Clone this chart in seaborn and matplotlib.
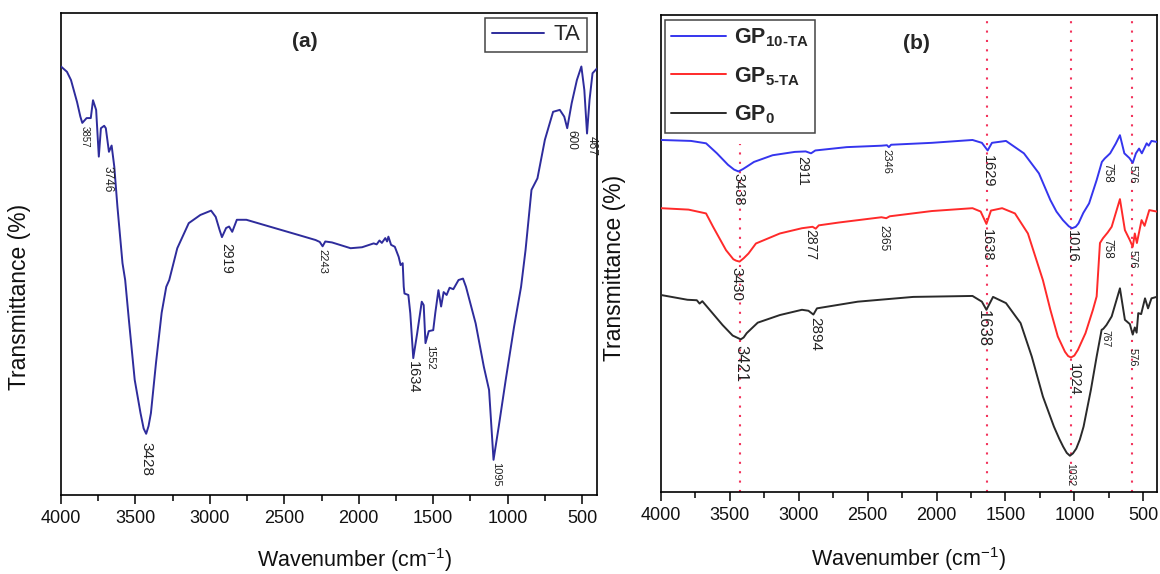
import numpy as np
import pandas as pd
import matplotlib
matplotlib.use("Agg")
import matplotlib.pyplot as plt
import seaborn as sns
from matplotlib.ticker import MultipleLocator

# ---------------- FTIR spectra ----------------
# (a) tannic acid
ta_wn = [4000, 3960, 3933, 3892, 3870, 3857, 3828, 3800, 3785, 3764,
         3746, 3732, 3710, 3699, 3678, 3660, 3642, 3621, 3587, 3569,
         3544, 3505, 3466, 3445, 3428, 3412, 3396, 3362, 3324, 3293,
         3273, 3219, 3142, 3064, 2992, 2961, 2935, 2919, 2891, 2871,
         2850, 2819, 2755, 2600, 2400, 2290, 2262, 2243, 2225, 2180,
         2055, 1978, 1900, 1880, 1861, 1845, 1822, 1810, 1801, 1783,
         1758, 1732, 1719, 1705, 1698, 1693, 1667, 1654, 1634, 1608,
         1577, 1564, 1552, 1530, 1500, 1486, 1465, 1447, 1430, 1410,
         1390, 1365, 1330, 1300, 1280, 1215, 1160, 1125, 1095, 1060,
         1013, 957, 910, 880, 840, 800, 750, 695, 650, 620,
         600, 570, 535, 505, 485, 467, 450, 430, 400]
ta_t = [88.9, 87.8, 86.1, 81.5, 78.5, 77.2, 78.2, 78.2, 81.9, 79.9,
        70.2, 76.1, 76.6, 76.1, 71.2, 72.5, 68.1, 59.8, 48.1, 44.6,
        36.3, 23.9, 17.0, 13.8, 12.7, 14.3, 17.0, 27.4, 37.8, 43.2,
        44.6, 51.2, 56.4, 58.1, 59.0, 57.7, 55.0, 53.5, 55.4, 55.7,
        54.6, 57.1, 57.1, 55.7, 53.9, 52.9, 52.5, 51.6, 52.6, 52.4,
        51.2, 51.4, 52.2, 52.0, 52.8, 52.3, 53.3, 52.6, 53.6, 51.9,
        51.5, 49.4, 47.7, 48.1, 43.2, 41.8, 41.5, 37.7, 28.4, 33.5,
        40.1, 39.4, 31.5, 34.0, 34.2, 37.8, 42.5, 39.1, 42.1, 41.5,
        43.0, 42.7, 44.6, 44.9, 43.2, 35.6, 26.6, 21.8, 7.3, 14.2,
        23.9, 34.9, 43.2, 50.8, 63.3, 65.7, 73.7, 79.5, 79.9, 78.5,
        76.1, 81.3, 86.1, 88.9, 84.0, 75.0, 82.0, 87.5, 88.5]

# (b) GP10-TA
gp10_wn = [4000, 3782, 3673, 3594, 3514, 3470, 3438, 3405, 3378, 3325,
           3190, 3029, 2950, 2911, 2880, 2652, 2400, 2360, 2346, 2330,
           2035, 1739, 1671, 1629, 1598, 1496, 1366, 1257, 1174, 1130,
           1083, 1040, 1016, 990, 970, 935, 893, 838, 800, 780,
           758, 740, 700, 669, 637, 600, 576, 553, 530, 510,
           475, 460, 440, 403]
gp10_t = [73.8, 73.6, 73.1, 71.0, 68.6, 67.6, 67.2, 67.7, 68.2, 69.2,
          70.6, 71.3, 71.4, 71.0, 71.6, 72.3, 72.6, 72.7, 72.3, 72.8,
          73.2, 73.8, 73.2, 71.6, 73.2, 73.6, 71.0, 66.8, 61.2, 58.8,
          57.0, 55.7, 55.3, 55.6, 56.3, 58.5, 60.5, 65.4, 69.2, 69.9,
          70.5, 71.0, 73.0, 74.8, 71.0, 70.0, 69.0, 71.0, 72.0, 71.0,
          73.1, 72.6, 73.6, 73.4]

# (b) GP5-TA
gp5_wn = [4000, 3800, 3673, 3622, 3528, 3475, 3455, 3430, 3400, 3365,
          3311, 3137, 2977, 2900, 2877, 2855, 2708, 2400, 2365, 2340,
          2035, 1739, 1680, 1638, 1605, 1524, 1431, 1337, 1228, 1174,
          1120, 1068, 1045, 1024, 1000, 974, 919, 865, 838, 814,
          792, 758, 729, 669, 633, 597, 576, 561, 546, 512,
          490, 456, 403]
gp5_t = [59.5, 59.2, 58.4, 55.6, 50.7, 48.8, 48.5, 48.3, 49.0, 50.0,
         52.1, 54.2, 55.3, 55.6, 55.2, 55.9, 56.5, 57.6, 57.4, 57.8,
         58.9, 59.5, 58.8, 56.2, 59.0, 59.5, 58.4, 54.2, 44.4, 38.2,
         32.6, 29.4, 28.5, 28.2, 28.6, 29.8, 33.3, 38.2, 41.0, 52.2,
         53.2, 54.4, 55.6, 61.4, 54.9, 52.8, 51.4, 54.2, 52.2, 57.0,
         55.8, 59.1, 58.8]

# (b) GP0
gp0_wn = [4000, 3808, 3740, 3720, 3700, 3647, 3553, 3480, 3421, 3400,
          3378, 3298, 3137, 2977, 2930, 2894, 2868, 2572, 2169, 1739,
          1671, 1638, 1590, 1496, 1390, 1309, 1228, 1148, 1110, 1081,
          1055, 1032, 1010, 986, 960, 933, 880, 838, 802, 790,
          767, 729, 669, 633, 597, 576, 561, 548, 536, 515,
          487, 465, 440, 403]
gp0_t = [41.3, 40.3, 40.2, 39.5, 40.0, 38.2, 35.0, 32.8, 32.0, 32.4,
         33.3, 35.5, 37.1, 38.2, 38.0, 37.2, 38.5, 39.9, 40.9, 41.1,
         39.9, 38.2, 40.9, 39.6, 35.4, 28.4, 20.0, 13.7, 11.2, 9.5,
         8.2, 7.6, 8.1, 9.1, 11.0, 13.7, 21.4, 28.4, 34.0, 34.2,
         35.0, 36.8, 42.7, 36.1, 35.2, 33.0, 34.5, 33.4, 37.5, 37.3,
         40.6, 38.5, 40.6, 40.9]

# Band labels: (text, wavenumber, dx pt, dy pt, font size)
ta_bands = [("3857", 3857, 2, -2, 7), ("3746", 3746, 6, -7, 8.5),
            ("3428", 3428, 0, -6, 11), ("2919", 2919, 3, -4, 10),
            ("2243", 2243, 0, -2, 8), ("1634", 1634, 0, -2, 10.5),
            ("1552", 1552, 3.5, -1, 8), ("1095", 1095, 2, -1.5, 8),
            ("600", 600, 3, -1.5, 8.5), ("467", 467, 3.5, -2, 8.5)]
gp10_bands = [("3438", 3438, 0, -1, 10.5), ("2911", 2911, -6.5, -2, 10),
              ("2346", 2346, -2, -1, 8), ("1629", 1629, 0, -3, 10.5),
              ("1016", 1016, 0, -1.5, 10.5), ("758", 758, 0, -5, 8.5),
              ("576", 576, 0, -1.5, 8)]
gp5_bands = [("3430", 3430, -2, -4, 11), ("2877", 2877, -4, 0, 10),
             ("2365", 2365, -2, -5, 8.5), ("1638", 1638, 0, -4, 10.5),
             ("1024", 1024, 2, -4, 10.5), ("758", 758, 0, -5, 8.5),
             ("576", 576, 0, -2, 8)]
gp0_bands = [("3421", 3421, 0, -4, 12), ("2894", 2894, 1, -1.5, 11),
             ("1638", 1638, -2, 0, 12), ("1032", 1032, 0, -5, 7.5),
             ("767", 767, -1, -3.5, 7.5), ("576", 576, 0, -10, 8)]

# Reference lines for the shared bands in (b)
guide_wn = [3430, 1632, 1024, 585]
guide_top = [73, 100, 100, 100]

# ---------------- style ----------------
sns.set_theme(style="white")
plt.rcParams["font.family"] = ["Liberation Sans", "DejaVu Sans"]
plt.rcParams["mathtext.fontset"] = "custom"
plt.rcParams["mathtext.rm"] = "Liberation Sans"
plt.rcParams["mathtext.it"] = "Liberation Sans:italic"
plt.rcParams["mathtext.bf"] = "Liberation Sans:bold"

fig = plt.figure(figsize=(11.6, 5.74), dpi=100)
fig.patch.set_facecolor("white")
ax_a = fig.add_axes([61 / 1160, 1 - 495 / 574, 536 / 1160, 482 / 574])
ax_b = fig.add_axes([661 / 1160, 1 - 492 / 574, 496 / 1160, 477 / 574])


def spectrum(ax, wn, t, color, label):
    df = pd.DataFrame({"wn": wn, "T": t})
    sns.lineplot(data=df, x="wn", y="T", sort=False, estimator=None,
                 color=color, lw=1.4, ax=ax, label=label, zorder=3,
                 solid_joinstyle="round")


def band_labels(ax, wn, t, bands):
    wn_r = np.asarray(wn)[::-1]
    t_r = np.asarray(t)[::-1]
    for text, pos, dx, dy, size in bands:
        y = np.interp(pos, wn_r, t_r)
        ax.annotate(text, xy=(pos, y), xytext=(dx, dy),
                    textcoords="offset points", rotation=270,
                    ha="center", va="top", fontsize=size, color="#222222")


def style_axis(ax):
    ax.set_xlim(4000, 400)
    ax.set_ylim(0, 100)
    ax.xaxis.set_major_locator(MultipleLocator(500))
    ax.xaxis.set_minor_locator(MultipleLocator(250))
    ax.set_yticks([])
    ax.tick_params(axis="x", which="major", direction="out", length=6.5,
                   width=1.1, labelsize=13, pad=4.5, bottom=True, top=False,
                   color="black", labelcolor="#111111")
    ax.tick_params(axis="x", which="minor", direction="out", length=4.3,
                   width=1.1, bottom=True, top=False, color="black")
    for sp in ax.spines.values():
        sp.set_color("black")
        sp.set_linewidth(1.2)
    ax.set_xlabel("Wavenumber (cm$^{-1}$)", fontsize=15.5, color="#111111")
    ax.set_ylabel("Transmittance (%)", fontsize=16.5, color="#111111")


# ---------------- (a) ----------------
spectrum(ax_a, ta_wn, ta_t, "#2e2c9c", "TA")
band_labels(ax_a, ta_wn, ta_t, ta_bands)
style_axis(ax_a)
ax_a.xaxis.set_label_coords(0.548, -0.106)
ax_a.yaxis.set_label_coords(-0.056, 0.41)
ax_a.text(0.455, 0.94, "(a)", transform=ax_a.transAxes, ha="center",
          va="center", fontsize=15, fontweight="bold")
leg_a = ax_a.legend(loc="upper right", bbox_to_anchor=(0.981, 0.99),
                    borderaxespad=0, fontsize=16, handlelength=2.35,
                    handletextpad=0.4, frameon=True, fancybox=False,
                    framealpha=1, borderpad=0.3)
leg_a.get_frame().set_edgecolor("#444444")
leg_a.get_frame().set_linewidth(1.1)

# ---------------- (b) ----------------
for w, top in zip(guide_wn, guide_top):
    ax_b.axvline(w, ymin=0, ymax=top / 100, color="#f2335c", lw=1.5,
                 ls=(0, (1, 3.5)), zorder=1)
spectrum(ax_b, gp10_wn, gp10_t, "#3535ee", "$\\mathbf{GP}_{\\mathbf{10\u2010TA}}$")
spectrum(ax_b, gp5_wn, gp5_t, "#ff2a2a", "$\\mathbf{GP}_{\\mathbf{5\u2010TA}}$")
spectrum(ax_b, gp0_wn, gp0_t, "#2a2a2a", "$\\mathbf{GP}_{\\mathbf{0}}$")
band_labels(ax_b, gp10_wn, gp10_t, gp10_bands)
band_labels(ax_b, gp5_wn, gp5_t, gp5_bands)
band_labels(ax_b, gp0_wn, gp0_t, gp0_bands)
style_axis(ax_b)
ax_b.xaxis.set_label_coords(0.5, -0.111)
ax_b.yaxis.set_label_coords(-0.0706, 0.47)
ax_b.text(0.516, 0.94, "(b)", transform=ax_b.transAxes, ha="center",
          va="center", fontsize=15, fontweight="bold")
leg_b = ax_b.legend(loc="upper left", bbox_to_anchor=(0.008, 0.99),
                    borderaxespad=0, fontsize=15.5, handlelength=2.55,
                    handletextpad=0.37, frameon=True, fancybox=False,
                    framealpha=1, borderpad=0.3, labelspacing=0.75)
leg_b.get_frame().set_edgecolor("#444444")
leg_b.get_frame().set_linewidth(1.1)

fig.savefig("out.png", dpi=100, facecolor="white")
